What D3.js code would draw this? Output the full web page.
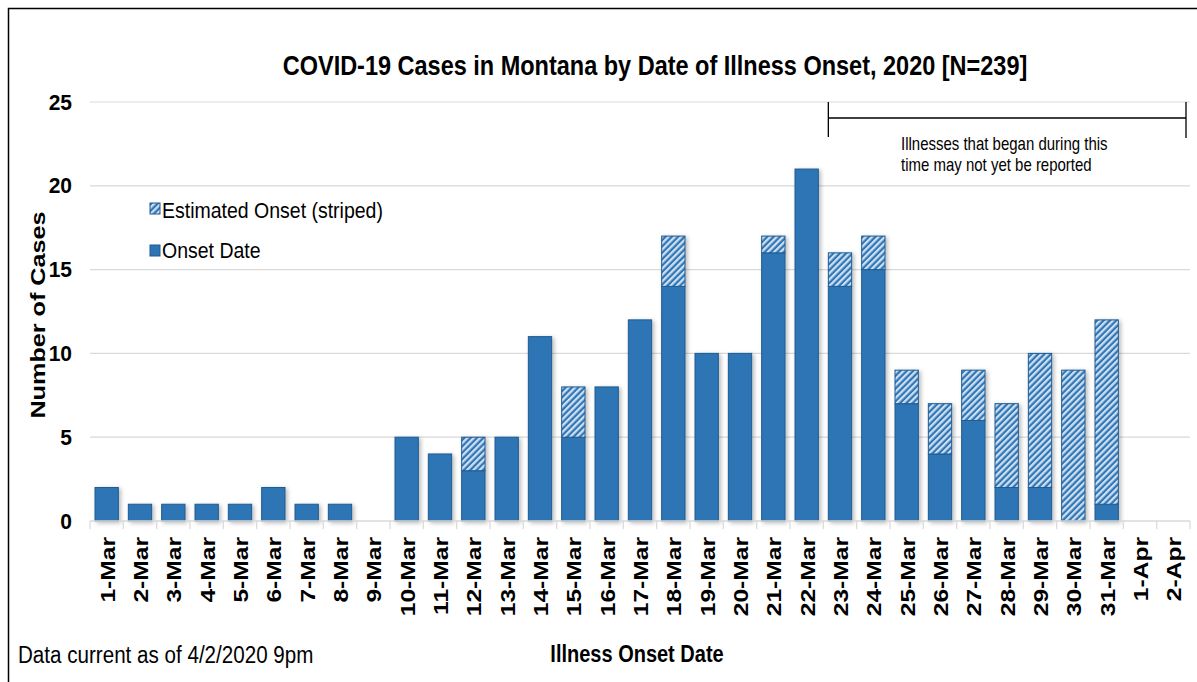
<!DOCTYPE html>
<html><head><meta charset="utf-8">
<script src="https://cdn.jsdelivr.net/npm/d3@7"></script>
<style>body{margin:0;background:#fff;} svg{display:block;font-family:"Liberation Sans",Arial,sans-serif;}</style>
</head><body>
<svg id="c" width="1197" height="682"></svg>
<script>
const categories = ["1-Mar","2-Mar","3-Mar","4-Mar","5-Mar","6-Mar","7-Mar","8-Mar","9-Mar","10-Mar","11-Mar","12-Mar","13-Mar","14-Mar","15-Mar","16-Mar","17-Mar","18-Mar","19-Mar","20-Mar","21-Mar","22-Mar","23-Mar","24-Mar","25-Mar","26-Mar","27-Mar","28-Mar","29-Mar","30-Mar","31-Mar","1-Apr","2-Apr"];
const onsetDate = [2,1,1,1,1,2,1,1,0,5,4,3,5,11,5,8,12,14,10,10,16,21,14,15,7,4,6,2,2,0,1,0,0];
const estimatedOnset = [0,0,0,0,0,0,0,0,0,0,0,2,0,0,3,0,0,3,0,0,1,0,2,2,2,3,3,5,8,9,11,0,0];
const yTicks = [0,5,10,15,20,25];

const svg = d3.select("#c");
const defs = svg.append("defs");
const pat = defs.append("pattern").attr("id","stripe").attr("patternUnits","userSpaceOnUse")
  .attr("width",4.5).attr("height",4.5).attr("patternTransform","rotate(45)");
pat.append("rect").attr("width",4.5).attr("height",4.5).attr("fill","#2e75b6");
pat.append("rect").attr("width",2.3).attr("height",4.5).attr("fill","#cddff0");
const f = defs.append("filter").attr("id","sh").attr("x","-30%").attr("y","-10%").attr("width","160%").attr("height","130%");
f.append("feDropShadow").attr("dx",2).attr("dy",1.5).attr("stdDeviation",2).attr("flood-color","#000").attr("flood-opacity",0.28);

// border
svg.append("path").attr("d","M8.5,682 V8.5 H1197").attr("fill","none").attr("stroke","#000").attr("stroke-width",1.5);

const x = d3.scaleBand().domain(categories).range([90,1190]).paddingInner(0.3).paddingOuter(0.15);
const y = d3.scaleLinear().domain([0,25]).range([521,102]);

function htext(g, xx, yy, str, size, sy, opts={}) {
  return g.append("text").attr("transform",`translate(${xx},${yy}) scale(1,${sy})`)
    .attr("font-size",size).attr("font-weight",opts.bold?"bold":"normal")
    .attr("text-anchor",opts.anchor||"start").attr("fill","#000").text(str);
}

// grid
svg.append("g").selectAll("line").data(yTicks.filter(d=>d>0)).join("line")
  .attr("x1",90).attr("x2",1190).attr("y1",d=>y(d)).attr("y2",d=>y(d))
  .attr("stroke","#d9d9d9").attr("stroke-width",1.2);

// y labels
svg.append("g").selectAll("text").data(yTicks).join("text")
  .attr("transform",d=>`translate(72,${y(d)+7.5}) scale(1,1.05)`).attr("text-anchor","end")
  .attr("font-size",21).attr("font-weight","bold").attr("fill","#000").text(d=>d);

// bars
const bars = svg.append("g").attr("filter","url(#sh)");
categories.forEach((c,i)=>{
  const a = onsetDate[i], b = estimatedOnset[i];
  if (a>0) bars.append("rect").attr("x",x(c)).attr("width",x.bandwidth())
    .attr("y",y(a)).attr("height",y(0)-y(a)).attr("fill","#2e75b6").attr("stroke","#1f5b91").attr("stroke-width",1);
  if (b>0) bars.append("rect").attr("x",x(c)).attr("width",x.bandwidth())
    .attr("y",y(a+b)).attr("height",y(a)-y(a+b)).attr("fill","url(#stripe)").attr("stroke","#1f5b91").attr("stroke-width",1);
});

// x axis
const xa = svg.append("g").attr("transform","translate(0,521)")
  .call(d3.axisBottom(x).tickSize(0).tickPadding(0));
xa.select(".domain").attr("stroke","#d9d9d9").attr("stroke-width",1.5).attr("d","M90,0H1190");
xa.selectAll(".tick text").remove();
const edges = categories.map(c=>x(c)-x.step()*x.paddingInner()/2).concat([x(categories[categories.length-1])+x.bandwidth()+x.step()*x.paddingInner()/2]);
svg.append("g").selectAll("line").data(edges).join("line")
  .attr("x1",d=>d).attr("x2",d=>d)
  .attr("y1",521).attr("y2",529).attr("stroke","#d9d9d9").attr("stroke-width",1.2);
svg.append("g").selectAll("text").data(categories).join("text")
  .attr("transform",d=>`translate(${x(d)+x.bandwidth()/2+8},537) rotate(-90) scale(1.2,1)`)
  .attr("text-anchor","end").attr("font-size",20.5).attr("font-weight","bold").attr("fill","#000").text(d=>d);

// title
htext(svg, 655, 75, "COVID-19 Cases in Montana by Date of Illness Onset, 2020 [N=239]", 23.5, 1.2, {bold:true, anchor:"middle"});

// y label
svg.append("text").attr("transform","translate(45,315) rotate(-90) scale(1.2,1)").attr("text-anchor","middle")
  .attr("font-size",21).attr("font-weight","bold").text("Number of Cases");

// x label
htext(svg, 637, 662, "Illness Onset Date", 20, 1.2, {bold:true, anchor:"middle"});
htext(svg, 18, 663, "Data current as of 4/2/2020 9pm", 20.6, 1.2);

// legend
const lg = svg.append("g");
lg.append("rect").attr("x",150).attr("y",203).attr("width",10).attr("height",11).attr("fill","url(#stripe)").attr("stroke","#1f5b91");
htext(lg, 162, 218, "Estimated Onset (striped)", 19.5, 1.15);
lg.append("rect").attr("x",150).attr("y",245).attr("width",10).attr("height",11).attr("fill","#2e75b6").attr("stroke","#1f5b91");
htext(lg, 162, 258, "Onset Date", 19.5, 1.15);

// annotation bracket
const bx1 = x("23-Mar"), bx2 = 1186;
svg.append("path").attr("d",`M${bx1},102V137M${bx1},118H${bx2}M${bx2},102V138`).attr("fill","none").attr("stroke","#000").attr("stroke-width",1.3);
htext(svg, 901, 150, "Illnesses that began during this", 15, 1.2);
htext(svg, 901, 171, "time may not yet be reported", 15, 1.2);
</script>
</body></html>
